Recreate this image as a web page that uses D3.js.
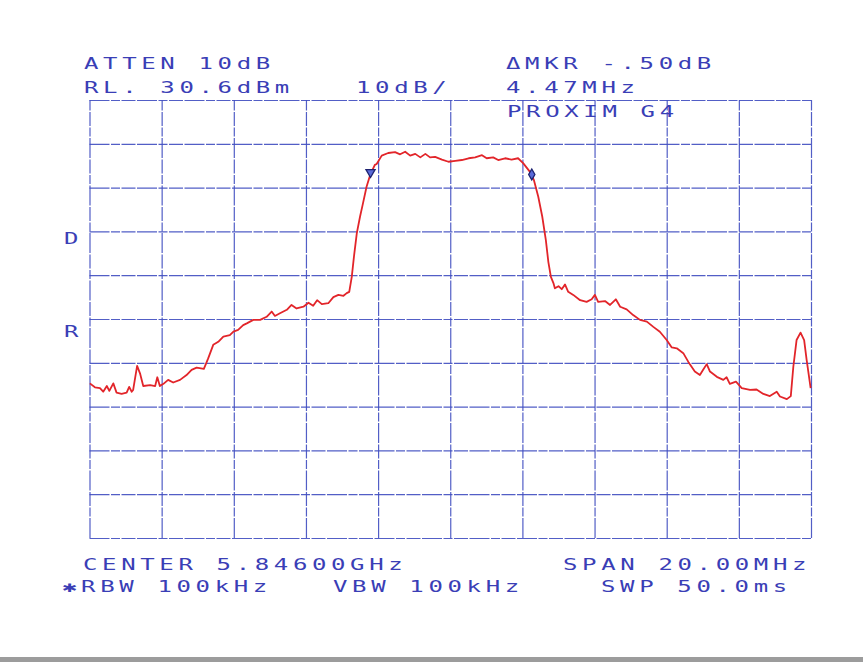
<!DOCTYPE html>
<html>
<head>
<meta charset="utf-8">
<script src="https://cdn.jsdelivr.net/npm/d3@7"></script>
<style>
  body{margin:0;background:#fff;}
  svg{display:block;}
</style>
</head>
<body>
<div id="chart"></div>
<script>
// spectrum analyzer plot
const centerGHz=5.846, spanMHz=20.00, refLevel=30.6, dbPerDiv=10;

// trace: frequency offset from center (MHz) and level (dBm)
const freqOffset=[-9.99,-9.85,-9.71,-9.62,-9.52,-9.45,-9.34,-9.25,-9.11,-8.97,-8.90,-8.83,-8.79,-8.68,-8.60,-8.51,-8.32,-8.18,-8.12,-8.05,
  -7.95,-7.82,-7.68,-7.49,-7.31,-7.17,-7.03,-6.83,-6.71,-6.57,-6.43,-6.29,-6.11,-6.01,-5.88,-5.74,-5.64,-5.46,-5.27,-5.09,
  -4.95,-4.86,-4.72,-4.53,-4.40,-4.26,-4.07,-3.93,-3.80,-3.69,-3.56,-3.38,-3.24,-3.10,-2.96,-2.87,-2.80,-2.73,-2.67,-2.59,
  -2.50,-2.43,-2.32,-2.22,-2.09,-2.04,-1.90,-1.72,-1.53,-1.39,-1.25,-1.11,-0.97,-0.83,-0.69,-0.56,-0.42,-0.23,-0.05,0.14,
  0.32,0.51,0.69,0.88,1.01,1.19,1.33,1.52,1.70,1.88,2.02,2.21,2.32,2.44,2.55,2.65,2.72,2.79,2.86,2.90,3.00,3.09,3.18,
  3.27,3.41,3.60,3.78,3.92,4.01,4.10,4.29,4.43,4.59,4.71,4.89,5.07,5.26,5.45,5.63,5.81,6.00,6.14,6.28,
  6.46,6.60,6.78,6.92,7.01,7.11,7.20,7.39,7.57,7.66,7.75,7.92,8.08,8.31,8.49,8.68,8.86,9.05,9.14,9.33,
  9.44,9.51,9.60,9.71,9.81,9.88,9.99];
const levelDbm=[-34.1,-35.0,-35.2,-36.0,-34.7,-35.8,-34.1,-36.2,-36.5,-36.2,-34.9,-36.0,-35.6,-30.1,-31.8,-34.7,-34.5,-34.7,-32.7,-34.7,
  -34.2,-33.3,-33.9,-33.3,-32.2,-31.0,-30.5,-30.8,-28.4,-25.3,-24.6,-23.4,-23.1,-22.3,-21.9,-20.8,-20.4,-19.6,-19.6,-18.9,
  -17.7,-18.7,-18.1,-17.3,-16.2,-17.0,-16.6,-15.7,-16.4,-15.1,-16.0,-15.8,-14.4,-13.9,-14.1,-13.5,-13.2,-9.8,-5.2,0.2,
  4.0,6.6,10.8,13.5,15.8,16.0,17.9,18.5,18.7,18.2,18.8,17.9,18.3,17.5,18.3,17.5,17.6,17.0,16.5,16.7,
  16.9,17.3,17.5,18.0,17.3,17.5,16.9,17.3,17.0,17.3,16.2,14.2,12.3,8.5,4.0,-1.4,-6.4,-9.8,-11.2,-12.4,-11.9,-12.6,-11.5,
  -13.2,-13.9,-15.1,-15.5,-14.9,-13.9,-15.5,-15.3,-16.2,-14.9,-16.6,-17.2,-18.5,-19.6,-20.0,-21.2,-22.3,-24.2,-25.9,-26.1,
  -27.2,-29.2,-31.4,-32.2,-31.0,-29.7,-31.4,-32.6,-33.3,-32.7,-34.2,-33.7,-35.2,-35.6,-35.5,-36.5,-37.0,-36.0,-37.1,-37.7,
  -37.0,-30.3,-24.2,-22.5,-24.2,-28.8,-35.2];

// markers (offset MHz, dBm)
const markerFreq=[-2.21,2.26];
const markerLevel=[14.0,13.6];

const headerLeft=["ATTEN 10dB","RL. 30.6dBm"];
const headerRight=["\u0394MKR -.50dB","4.47MHz","PROXIM G4"];
const footer=["CENTER 5.84600GHz","SPAN 20.00MHz","\u2731RBW 100kHz","VBW 100kHz","SWP 50.0ms"];

const W=863,H=662;
const plot={left:89.5,right:811,top:100,bottom:538};
const ink="#3a3eb6", gridColor="#3f4cc0", traceColor="#e2252a";

const svg=d3.select("#chart").append("svg")
    .attr("width",W).attr("height",H);
svg.append("rect").attr("width",W).attr("height",H).attr("fill","#fff");

const x=d3.scaleLinear()
    .domain([-spanMHz/2,spanMHz/2])
    .range([plot.left,plot.right]);
const y=d3.scaleLinear()
    .domain([refLevel-10*dbPerDiv,refLevel])
    .range([plot.bottom,plot.top]);

// graticule, 10 x 10 divisions
const xTicks=d3.range(-10,10.01,spanMHz/10);
const yTicks=d3.range(0,11).map(i=>refLevel-i*dbPerDiv);

const gx=svg.append("g")
    .attr("transform",`translate(0,${plot.bottom})`)
    .call(d3.axisBottom(x).tickValues(xTicks).tickSize(-(plot.bottom-plot.top)).tickFormat(""));
const gy=svg.append("g")
    .attr("transform",`translate(${plot.left},0)`)
    .call(d3.axisLeft(y).tickValues(yTicks).tickSize(-(plot.right-plot.left)).tickFormat(""));
[gx,gy].forEach(g=>{
    g.select(".domain").remove();
    g.selectAll(".tick line")
        .attr("stroke",gridColor)
        .attr("stroke-width",1.2)
        .attr("stroke-opacity",0.9)
        .attr("stroke-dasharray","20,1.5,9,1.5,14,1.5");
});

// trace
const pts=freqOffset.map((f,i)=>[f,levelDbm[i]]);
const line=d3.line().x(d=>x(d[0])).y(d=>y(d[1]));
svg.append("path")
    .datum(pts)
    .attr("fill","none")
    .attr("stroke",traceColor)
    .attr("stroke-width",1.8)
    .attr("stroke-linejoin","round")
    .attr("d",line);

// markers: triangle and diamond
const mk=svg.append("g").attr("fill","#5a6ad8").attr("stroke","#1d2270").attr("stroke-width",1.3);
mk.append("path")
    .attr("d",d3.symbol(d3.symbolTriangle,36)())
    .attr("transform",`translate(${x(markerFreq[0])},${y(markerLevel[0])-0.5}) rotate(180)`);
mk.append("path")
    .attr("d",d3.symbol(d3.symbolDiamond,34)())
    .attr("transform",`translate(${x(markerFreq[1])},${y(markerLevel[1])})`);

// plotter style lettering
function label(px,baseline,str){
    svg.append("g")
        .attr("transform",`translate(${px},${baseline}) scale(1.6,1)`)
        .append("text")
        .attr("font-family","DejaVu Sans Mono, DejaVu Sans, monospace")
        .attr("font-size",15)
        .attr("letter-spacing",2.9)
        .attr("fill",ink)
        .text(str);
}
label(84,69,headerLeft[0]);
label(84,93,headerLeft[1]);
label(356,93,"10dB/");
label(506,69,headerRight[0]);
label(506,93,headerRight[1]);
label(507,117,headerRight[2]);
label(64,244,"D");
label(64,337,"R");
label(83,569.5,footer[0]);
label(563,569.5,footer[1]);
label(62,592,footer[2]);
label(333,592,footer[3]);
label(601,592,footer[4]);

// scan edge at the bottom
svg.append("rect").attr("x",0).attr("y",657).attr("width",W).attr("height",5).attr("fill","#9c9c9c");
</script>
</body>
</html>
